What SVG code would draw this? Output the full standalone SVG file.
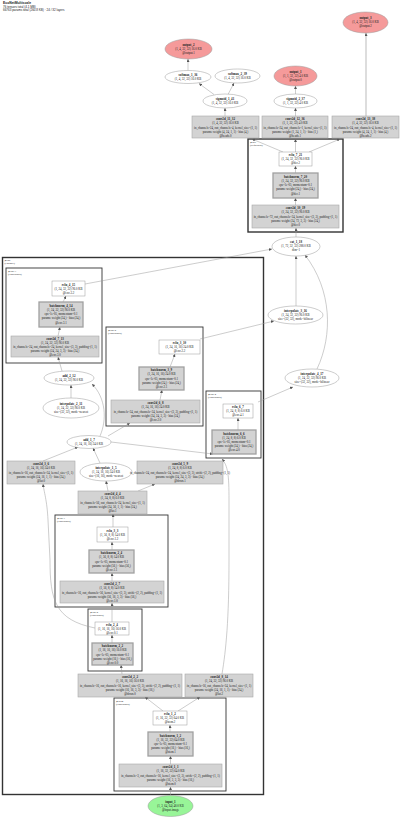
<svg xmlns="http://www.w3.org/2000/svg" width="400" height="818" viewBox="0 0 400 818">
<defs>
<marker id="ah" viewBox="0 0 10 10" refX="10" refY="5" markerWidth="3" markerHeight="3" markerUnits="userSpaceOnUse" orient="auto"><path d="M0,0 L10,5 L0,10 z" fill="#555"/></marker>
<style>
text{font-family:"Liberation Serif",serif;text-anchor:middle;fill:#222}
.n{font-size:3.2px;font-weight:bold}
.t{font-size:3px}
.h{font-family:"Liberation Sans",sans-serif;text-anchor:start;font-size:3px}
.hb{font-family:"Liberation Sans",sans-serif;text-anchor:start;font-size:3.4px;font-weight:bold}
.cl{font-size:2.6px;text-anchor:start}
.cb{fill:none;stroke:#333;stroke-width:0.9}
.big{fill:none;stroke:#333;stroke-width:1.4}
.op{fill:#d3d3d3;stroke:#a8a8a8;stroke-width:0.6}
.bn{fill:#d3d3d3;stroke:#a0a0a0;stroke-width:1.3}
.rl{fill:#fff;stroke:#9a9a9a;stroke-width:0.5}
.el{fill:#fff;stroke:#9a9a9a;stroke-width:0.5}
.out{fill:#f59a9a;stroke:#9a9a9a;stroke-width:0.5}
.in{fill:#98f598;stroke:#9a9a9a;stroke-width:0.5}
.e{fill:none;stroke:#9a9a9a;stroke-width:0.5;marker-end:url(#ah)}
</style>
</defs>
<rect width="400" height="818" fill="#fff"/>
<g id="title">
<text class="hb" x="3" y="4">EcoNetMultiscale</text>
<text class="h" x="3" y="7.5">76 tensors total (4.1 MB)</text>
<text class="h" x="3" y="10.5">66763 params total (260.8 KB) · 24 / 32 layers</text>
</g>
<g id="clusters">
<rect class="big" x="2.5" y="257.5" width="261" height="537"/>
<text class="cl" x="4.5" y="261">@enc</text><text class="cl" x="4.5" y="264">(Encoder)</text>
<rect class="big" x="248" y="139" width="95" height="93"/>
<text class="cl" x="250" y="142.5">@dec</text><text class="cl" x="250" y="145.5">(Sequential)</text>
<rect class="cb" x="6" y="268" width="96" height="95"/>
<text class="cl" x="8" y="271.5">@enc.3</text><text class="cl" x="8" y="274.5">(ConvBlock)</text>
<rect class="cb" x="106" y="327" width="97" height="99"/>
<text class="cl" x="108" y="330.5">@enc.2</text><text class="cl" x="108" y="333.5">(ConvBlock)</text>
<rect class="cb" x="206" y="391" width="55" height="67"/>
<text class="cl" x="208" y="394.5">@enc.4</text><text class="cl" x="208" y="397.5">(ConvBlock)</text>
<rect class="cb" x="55" y="515" width="113" height="92"/>
<text class="cl" x="57" y="518.5">@enc.1</text><text class="cl" x="57" y="521.5">(ConvBlock)</text>
<rect class="cb" x="88" y="609" width="54" height="62"/>
<text class="cl" x="90" y="612.5">@enc.0</text><text class="cl" x="90" y="615.5">(ConvBlock)</text>
<rect class="cb" x="114" y="698" width="112" height="93"/>
<text class="cl" x="116" y="701.5">@stem</text><text class="cl" x="116" y="704.5">(ConvBlock)</text>
</g>
<g id="edges">
<path class="e" d="M214,94.5 L199,83.5"/>
<path class="e" d="M228,94.5 L234,83"/>
<path class="e" d="M188,70.5 L188,59"/>
<path class="e" d="M225,116 L225,108"/>
<path class="e" d="M295.5,116 L295.5,108"/>
<path class="e" d="M295.5,94 L295.5,86"/>
<path class="e" d="M366,116 L366,33" style="stroke:#bbb;stroke-width:1"/>
<path class="e" d="M283,152 L252,139"/>
<path class="e" d="M295.5,152 L295.5,139"/>
<path class="e" d="M309,152 L340,139"/>
<path class="e" d="M295.5,173 L295.5,166"/>
<path class="e" d="M295.5,205 L295.5,198"/>
<path class="e" d="M296,237 L296,228"/>
<path class="e" d="M85,284 L272,249"/>
<path class="e" d="M296,306 L296,256"/>
<path class="e" d="M317,369 C333,335 332,290 305,255"/>
<path class="e" d="M200,339 L274,321"/>
<path class="e" d="M258,402 L293,387"/>
<path class="e" d="M63,302 L66,296"/>
<path class="e" d="M58,336 L60,327"/>
<path class="e" d="M62,371 L58,357"/>
<path class="e" d="M71,398 L71,385"/>
<path class="e" d="M100,436 C107,420 106,398 92,384"/>
<path class="e" d="M170,367 L175,354"/>
<path class="e" d="M160,400 L162,390"/>
<path class="e" d="M108,436 L130,423"/>
<path class="e" d="M43,461 L78,447"/>
<path class="e" d="M100,463 L93,448"/>
<path class="e" d="M111,442 L213,454"/>
<path class="e" d="M108,491 L106,481"/>
<path class="e" d="M138,491 L155,484"/>
<path class="e" d="M113,527 L113,514"/>
<path class="e" d="M112,550 L112,542"/>
<path class="e" d="M112,581 L112,573"/>
<path class="e" d="M112,622 L112,603"/>
<path class="e" d="M95,628 C55,620 50,600 50,560 L48,520 C47,500 44,492 43,484"/>
<path class="e" d="M112,643 L112,635"/>
<path class="e" d="M122,674 L121,665"/>
<path class="e" d="M163,711 L145,697"/>
<path class="e" d="M178,711 L200,697"/>
<path class="e" d="M222,674 C226,650 229,620 229,560 L229,500 C229,475 228,466 222,459"/>
<path class="e" d="M238,430 L238,418"/>
<path class="e" d="M170,732 L170,725"/>
<path class="e" d="M170.5,764 L170.5,756"/>
<path class="e" d="M170.5,795.5 L170.5,787"/>
</g>
<g id="output_3"><ellipse class="out" cx="365.5" cy="22.5" rx="22.5" ry="10.5"/><text class="n" x="365.5" y="19">output_3</text><text class="t" x="365.5" y="23">(1, 4, 32, 32) 16.0 KB</text><text class="t" x="365.5" y="27">@output.2</text></g>
<g id="output_2"><ellipse class="out" cx="188.5" cy="49" rx="23.5" ry="10"/><text class="n" x="188.5" y="45.5">output_2</text><text class="t" x="188.5" y="49.5">(1, 4, 32, 32) 16.0 KB</text><text class="t" x="188.5" y="53.5">@output.1</text></g>
<g id="output_1"><ellipse class="out" cx="295.5" cy="76" rx="21.5" ry="10"/><text class="n" x="295.5" y="72.5">output_1</text><text class="t" x="295.5" y="76.5">(1, 1, 32, 32) 4.0 KB</text><text class="t" x="295.5" y="80.5">@output.0</text></g>
<g id="softmax_1_36"><ellipse class="el" cx="188" cy="77" rx="23" ry="6.5"/><text class="n" x="188" y="76">softmax_1_36</text><text class="t" x="188" y="80">(1, 4, 32, 32) 16.0 KB</text></g>
<g id="softmax_2_39"><ellipse class="el" cx="237.5" cy="76" rx="22.5" ry="7"/><text class="n" x="237.5" y="75">softmax_2_39</text><text class="t" x="237.5" y="79">(1, 4, 32, 32) 16.0 KB</text></g>
<g id="sigmoid_1_41"><ellipse class="el" cx="225" cy="101" rx="22" ry="7"/><text class="n" x="225" y="100">sigmoid_1_41</text><text class="t" x="225" y="104">(1, 4, 32, 32) 16.0 KB</text></g>
<g id="sigmoid_2_37"><ellipse class="el" cx="295.5" cy="101" rx="21.5" ry="7"/><text class="n" x="295.5" y="100">sigmoid_2_37</text><text class="t" x="295.5" y="104">(1, 1, 32, 32) 4.0 KB</text></g>
<g id="conv2d_11_32"><rect class="op" x="192" y="116" width="67" height="22"/><text class="n" x="225.5" y="120.3">conv2d_11_32</text><text class="t" x="225.5" y="124.4">(1, 4, 32, 32) 16.0 KB</text><text class="t" x="225.5" y="128.5">in_channels=24, out_channels=4, kernel_size=(1, 1)</text><text class="t" x="225.5" y="132.6">params: weight (4, 24, 1, 1) · bias (4,)</text><text class="t" x="225.5" y="136.7">@heads.0</text></g>
<g id="conv2d_12_36"><rect class="op" x="262" y="116" width="66" height="22"/><text class="n" x="295" y="120.3">conv2d_12_36</text><text class="t" x="295" y="124.4">(1, 1, 32, 32) 4.0 KB</text><text class="t" x="295" y="128.5">in_channels=24, out_channels=1, kernel_size=(1, 1)</text><text class="t" x="295" y="132.6">params: weight (1, 24, 1, 1) · bias (1,)</text><text class="t" x="295" y="136.7">@heads.1</text></g>
<g id="conv2d_13_38"><rect class="op" x="332" y="116" width="67" height="22"/><text class="n" x="365.5" y="120.3">conv2d_13_38</text><text class="t" x="365.5" y="124.4">(1, 4, 32, 32) 16.0 KB</text><text class="t" x="365.5" y="128.5">in_channels=24, out_channels=4, kernel_size=(1, 1)</text><text class="t" x="365.5" y="132.6">params: weight (4, 24, 1, 1) · bias (4,)</text><text class="t" x="365.5" y="136.7">@heads.2</text></g>
<g id="relu_7_21"><rect class="rl" x="279" y="152" width="33" height="14"/><text class="n" x="295.5" y="156.2">relu_7_21</text><text class="t" x="295.5" y="160.2">(1, 24, 32, 32) 96.0 KB</text><text class="t" x="295.5" y="164.2">@dec.2</text></g>
<g id="batchnorm_7_20"><rect class="bn" x="273" y="173" width="45" height="25"/><text class="n" x="295.5" y="177.8">batchnorm_7_20</text><text class="t" x="295.5" y="182">(1, 24, 32, 32) 96.0 KB</text><text class="t" x="295.5" y="186.2">eps=1e-05, momentum=0.1</text><text class="t" x="295.5" y="190.4">params: weight (24,) · bias (24,)</text><text class="t" x="295.5" y="194.6">@dec.1</text></g>
<g id="conv2d_10_19"><rect class="op" x="252" y="205" width="87" height="23"/><text class="n" x="295.5" y="209.3">conv2d_10_19</text><text class="t" x="295.5" y="213.4">(1, 24, 32, 32) 96.0 KB</text><text class="t" x="295.5" y="217.5">in_channels=72, out_channels=24, kernel_size=(3, 3), padding=(1, 1)</text><text class="t" x="295.5" y="221.6">params: weight (24, 72, 3, 3) · bias (24,)</text><text class="t" x="295.5" y="225.7">@dec.0</text></g>
<g id="cat_1_18"><ellipse class="el" cx="296" cy="246.5" rx="24" ry="9.5"/><text class="n" x="296" y="243">cat_1_18</text><text class="t" x="296" y="247">(1, 72, 32, 32) 288.0 KB</text><text class="t" x="296" y="251">dim=1</text></g>
<g id="relu_4_15"><rect class="rl" x="52" y="281" width="33" height="15"/><text class="n" x="68.5" y="285.5">relu_4_15</text><text class="t" x="68.5" y="289.5">(1, 24, 32, 32) 96.0 KB</text><text class="t" x="68.5" y="293.5">@enc.3.2</text></g>
<g id="batchnorm_4_14"><rect class="bn" x="39" y="302" width="44" height="25"/><text class="n" x="61" y="306.8">batchnorm_4_14</text><text class="t" x="61" y="311">(1, 24, 32, 32) 96.0 KB</text><text class="t" x="61" y="315.2">eps=1e-05, momentum=0.1</text><text class="t" x="61" y="319.4">params: weight (24,) · bias (24,)</text><text class="t" x="61" y="323.6">@enc.3.1</text></g>
<g id="conv2d_7_13"><rect class="op" x="11" y="336" width="88" height="21"/><text class="n" x="55" y="340">conv2d_7_13</text><text class="t" x="55" y="344">(1, 24, 32, 32) 96.0 KB</text><text class="t" x="55" y="348">in_channels=24, out_channels=24, kernel_size=(3, 3), padding=(1, 1)</text><text class="t" x="55" y="352">params: weight (24, 24, 3, 3) · bias (24,)</text><text class="t" x="55" y="356">@enc.3.0</text></g>
<g id="add_2_12"><ellipse class="el" cx="69" cy="378" rx="25" ry="7"/><text class="n" x="69" y="377">add_2_12</text><text class="t" x="69" y="381">(1, 24, 32, 32) 96.0 KB</text></g>
<g id="interpolate_2_11"><ellipse class="el" cx="71" cy="408" rx="28" ry="10"/><text class="n" x="71" y="404.5">interpolate_2_11</text><text class="t" x="71" y="408.5">(1, 24, 32, 32) 96.0 KB</text><text class="t" x="71" y="412.5">size=(32, 32), mode=nearest</text></g>
<g id="relu_3_10"><rect class="rl" x="159" y="340" width="41" height="14"/><text class="n" x="179.5" y="344.2">relu_3_10</text><text class="t" x="179.5" y="348.2">(1, 24, 16, 16) 24.0 KB</text><text class="t" x="179.5" y="352.2">@enc.2.2</text></g>
<g id="batchnorm_3_9"><rect class="bn" x="139" y="367" width="45" height="23"/><text class="n" x="161.5" y="371.3">batchnorm_3_9</text><text class="t" x="161.5" y="375.4">(1, 24, 16, 16) 24.0 KB</text><text class="t" x="161.5" y="379.5">eps=1e-05, momentum=0.1</text><text class="t" x="161.5" y="383.6">params: weight (24,) · bias (24,)</text><text class="t" x="161.5" y="387.7">@enc.2.1</text></g>
<g id="conv2d_6_8"><rect class="op" x="111" y="400" width="89" height="23"/><text class="n" x="155.5" y="404.3">conv2d_6_8</text><text class="t" x="155.5" y="408.4">(1, 24, 16, 16) 24.0 KB</text><text class="t" x="155.5" y="412.5">in_channels=24, out_channels=24, kernel_size=(3, 3), padding=(1, 1)</text><text class="t" x="155.5" y="416.6">params: weight (24, 24, 3, 3) · bias (24,)</text><text class="t" x="155.5" y="420.7">@enc.2.0</text></g>
<g id="interpolate_3_16"><ellipse class="el" cx="295.5" cy="315" rx="27.5" ry="9"/><text class="n" x="295.5" y="311.5">interpolate_3_16</text><text class="t" x="295.5" y="315.5">(1, 24, 32, 32) 96.0 KB</text><text class="t" x="295.5" y="319.5">size=(32, 32), mode=bilinear</text></g>
<g id="interpolate_4_17"><ellipse class="el" cx="312" cy="378" rx="27" ry="9"/><text class="n" x="312" y="374.5">interpolate_4_17</text><text class="t" x="312" y="378.5">(1, 24, 32, 32) 96.0 KB</text><text class="t" x="312" y="382.5">size=(32, 32), mode=bilinear</text></g>
<g id="relu_6_7"><rect class="rl" x="223" y="404" width="30" height="14"/><text class="n" x="238" y="408.2">relu_6_7</text><text class="t" x="238" y="412.2">(1, 24, 8, 8) 6.0 KB</text><text class="t" x="238" y="416.2">@enc.4.1</text></g>
<g id="batchnorm_6_6"><rect class="bn" x="212" y="430" width="44" height="24"/><text class="n" x="234" y="434.6">batchnorm_6_6</text><text class="t" x="234" y="438.8">(1, 24, 8, 8) 6.0 KB</text><text class="t" x="234" y="443">eps=1e-05, momentum=0.1</text><text class="t" x="234" y="447.2">params: weight (24,) · bias (24,)</text><text class="t" x="234" y="451.4">@enc.4.0</text></g>
<g id="add_1_7"><ellipse class="el" cx="89" cy="442" rx="22" ry="6.5"/><text class="n" x="89" y="441">add_1_7</text><text class="t" x="89" y="445">(1, 24, 16, 16) 24.0 KB</text></g>
<g id="conv2d_3_6"><rect class="op" x="7" y="461" width="68" height="23"/><text class="n" x="41" y="465.3">conv2d_3_6</text><text class="t" x="41" y="469.4">(1, 24, 16, 16) 24.0 KB</text><text class="t" x="41" y="473.5">in_channels=16, out_channels=24, kernel_size=(1, 1)</text><text class="t" x="41" y="477.6">params: weight (24, 16, 1, 1) · bias (24,)</text><text class="t" x="41" y="481.7">@lat.0</text></g>
<g id="interpolate_1_5"><ellipse class="el" cx="106" cy="472" rx="26" ry="9"/><text class="n" x="106" y="468.5">interpolate_1_5</text><text class="t" x="106" y="472.5">(1, 24, 16, 16) 24.0 KB</text><text class="t" x="106" y="476.5">size=(16, 16), mode=nearest</text></g>
<g id="conv2d_5_9"><rect class="op" x="137" y="461" width="86" height="23"/><text class="n" x="180" y="465.3">conv2d_5_9</text><text class="t" x="180" y="469.4">(1, 24, 8, 8) 6.0 KB</text><text class="t" x="180" y="473.5">in_channels=24, out_channels=24, kernel_size=(3, 3), stride=(2, 2), padding=(1, 1)</text><text class="t" x="180" y="477.6">params: weight (24, 24, 3, 3) · bias (24,)</text><text class="t" x="180" y="481.7">@down.1</text></g>
<g id="conv2d_4_4"><rect class="op" x="78" y="491" width="69" height="23"/><text class="n" x="112.5" y="495.3">conv2d_4_4</text><text class="t" x="112.5" y="499.4">(1, 24, 8, 8) 6.0 KB</text><text class="t" x="112.5" y="503.5">in_channels=56, out_channels=24, kernel_size=(1, 1)</text><text class="t" x="112.5" y="507.6">params: weight (24, 56, 1, 1) · bias (24,)</text><text class="t" x="112.5" y="511.7">@lat.1</text></g>
<g id="relu_3_3"><rect class="rl" x="97" y="527" width="31" height="15"/><text class="n" x="112.5" y="531.5">relu_3_3</text><text class="t" x="112.5" y="535.5">(1, 56, 8, 8) 14.0 KB</text><text class="t" x="112.5" y="539.5">@enc.1.2</text></g>
<g id="batchnorm_2_4"><rect class="bn" x="89" y="550" width="45" height="23"/><text class="n" x="111.5" y="554.3">batchnorm_2_4</text><text class="t" x="111.5" y="558.4">(1, 56, 8, 8) 14.0 KB</text><text class="t" x="111.5" y="562.5">eps=1e-05, momentum=0.1</text><text class="t" x="111.5" y="566.6">params: weight (56,) · bias (56,)</text><text class="t" x="111.5" y="570.7">@enc.1.1</text></g>
<g id="conv2d_2_7"><rect class="op" x="60" y="581" width="104" height="22"/><text class="n" x="112" y="585.3">conv2d_2_7</text><text class="t" x="112" y="589.4">(1, 56, 8, 8) 14.0 KB</text><text class="t" x="112" y="593.5">in_channels=16, out_channels=56, kernel_size=(3, 3), stride=(2, 2), padding=(1, 1)</text><text class="t" x="112" y="597.6">params: weight (56, 16, 3, 3) · bias (56,)</text><text class="t" x="112" y="601.7">@enc.1.0</text></g>
<g id="relu_2_4"><rect class="rl" x="95" y="622" width="34" height="13"/><text class="n" x="112" y="626">relu_2_4</text><text class="t" x="112" y="629.8">(1, 16, 16, 16) 16.0 KB</text><text class="t" x="112" y="633.6">@enc.0.1</text></g>
<g id="batchnorm_2_2"><rect class="bn" x="92" y="643" width="41" height="22"/><text class="n" x="112.5" y="647.3">batchnorm_2_2</text><text class="t" x="112.5" y="651.4">(1, 16, 16, 16) 16.0 KB</text><text class="t" x="112.5" y="655.5">eps=1e-05, momentum=0.1</text><text class="t" x="112.5" y="659.6">params: weight (16,) · bias (16,)</text><text class="t" x="112.5" y="663.7">@enc.0.0</text></g>
<g id="conv2d_6_24"><rect class="op" x="78" y="674" width="104" height="23"/><text class="n" x="130" y="678.3">conv2d_2_2</text><text class="t" x="130" y="682.4">(1, 16, 16, 16) 16.0 KB</text><text class="t" x="130" y="686.5">in_channels=16, out_channels=16, kernel_size=(3, 3), stride=(2, 2), padding=(1, 1)</text><text class="t" x="130" y="690.6">params: weight (16, 16, 3, 3) · bias (16,)</text><text class="t" x="130" y="694.7">@down.0</text></g>
<g id="conv2d_8_14"><rect class="op" x="185" y="674" width="68" height="23"/><text class="n" x="219" y="678.3">conv2d_8_14</text><text class="t" x="219" y="682.4">(1, 24, 32, 32) 96.0 KB</text><text class="t" x="219" y="686.5">in_channels=16, out_channels=24, kernel_size=(1, 1)</text><text class="t" x="219" y="690.6">params: weight (24, 16, 1, 1) · bias (24,)</text><text class="t" x="219" y="694.7">@lat.2</text></g>
<g id="relu_1_2"><rect class="rl" x="153" y="711" width="34" height="14"/><text class="n" x="170" y="715.2">relu_1_2</text><text class="t" x="170" y="719.2">(1, 16, 32, 32) 64.0 KB</text><text class="t" x="170" y="723.2">@stem.2</text></g>
<g id="batchnorm_1_2"><rect class="bn" x="148" y="732" width="45" height="24"/><text class="n" x="170.5" y="736.6">batchnorm_1_2</text><text class="t" x="170.5" y="740.8">(1, 16, 32, 32) 64.0 KB</text><text class="t" x="170.5" y="745">eps=1e-05, momentum=0.1</text><text class="t" x="170.5" y="749.2">params: weight (16,) · bias (16,)</text><text class="t" x="170.5" y="753.4">@stem.1</text></g>
<g id="conv2d_1_1"><rect class="op" x="119" y="764" width="103" height="23"/><text class="n" x="170.5" y="768.3">conv2d_1_1</text><text class="t" x="170.5" y="772.4">(1, 16, 32, 32) 64.0 KB</text><text class="t" x="170.5" y="776.5">in_channels=3, out_channels=16, kernel_size=(3, 3), stride=(2, 2), padding=(1, 1)</text><text class="t" x="170.5" y="780.6">params: weight (16, 3, 3, 3) · bias (16,)</text><text class="t" x="170.5" y="784.7">@stem.0</text></g>
<g id="input_1"><ellipse class="in" cx="170.5" cy="806" rx="22.5" ry="10.5"/><text class="n" x="170.5" y="802.5">input_1</text><text class="t" x="170.5" y="806.5">(1, 3, 64, 64) 48.0 KB</text><text class="t" x="170.5" y="810.5">@input.image</text></g>
</svg>
